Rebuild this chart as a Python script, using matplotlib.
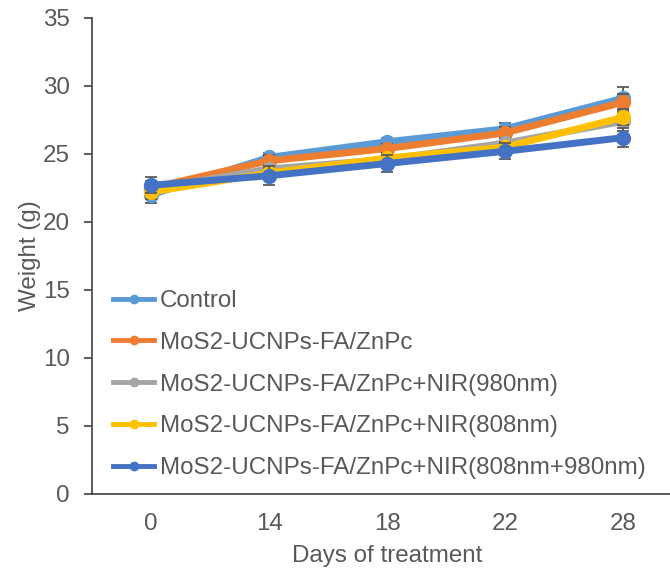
import numpy as np
import matplotlib
matplotlib.use("Agg")
import matplotlib.pyplot as plt
from matplotlib.lines import Line2D

plt.rcParams['font.family'] = ['Liberation Sans', 'DejaVu Sans']

days = ["0", "14", "18", "22", "28"]
labels = ["Control",
          "MoS2-UCNPs-FA/ZnPc",
          "MoS2-UCNPs-FA/ZnPc+NIR(980nm)",
          "MoS2-UCNPs-FA/ZnPc+NIR(808nm)",
          "MoS2-UCNPs-FA/ZnPc+NIR(808nm+980nm)"]
colors = ["#5B9BD5", "#ED7D31", "#A5A5A5", "#FFC000", "#4472C4"]

control = [22.0, 24.75, 25.9, 26.85, 29.1]
mos2 = [22.5, 24.5, 25.4, 26.55, 28.8]
nir980 = [22.4, 23.9, 24.6, 25.8, 27.4]
nir808 = [22.2, 23.6, 24.7, 25.5, 27.7]
nir_both = [22.7, 23.4, 24.3, 25.2, 26.2]

control_err = [0.6, 0.35, 0.3, 0.4, 0.8]
mos2_err = [0.5, 0.4, 0.3, 0.4, 0.6]
nir980_err = [0.5, 0.3, 0.3, 0.4, 0.7]
nir808_err = [0.5, 0.4, 0.4, 0.4, 0.6]
nir_both_err = [0.6, 0.7, 0.6, 0.6, 0.7]

series = [control, mos2, nir980, nir808, nir_both]
errors = [control_err, mos2_err, nir980_err, nir808_err, nir_both_err]

text_col = "#595959"
fs = 17.4

fig = plt.figure(figsize=(6.7, 5.76), dpi=100)
ax = fig.add_axes([92 / 670, 82 / 576, 590 / 670, 476 / 576])

x = np.arange(len(days))
for i, (vals, err, c) in enumerate(zip(series, errors, colors)):
    ax.errorbar(x, vals, yerr=err, fmt="none", ecolor="#595959",
                elinewidth=1.3, capsize=4, capthick=1.3, zorder=2 + 2 * i)
    ax.plot(x, vals, color=c, lw=5, marker="o", markersize=10,
            zorder=3 + 2 * i)

ax.set_xlim(-0.5, 4.5)
ax.set_ylim(0, 35)
ax.set_yticks(range(0, 36, 5))
ax.set_xticks(x)
ax.set_xticklabels(days)

for s in ["top", "right"]:
    ax.spines[s].set_visible(False)
for s in ["left", "bottom"]:
    ax.spines[s].set_color("#404040")
    ax.spines[s].set_linewidth(1.2)

ax.tick_params(axis="y", length=6, width=1.2, color="#404040",
               labelsize=fs, labelcolor=text_col, pad=10)
ax.tick_params(axis="x", length=0, labelsize=fs, labelcolor=text_col, pad=14)

ax.set_ylabel("Weight (g)", fontsize=fs, color=text_col, labelpad=1)
ax.set_xlabel("Days of treatment", fontsize=fs, color=text_col, labelpad=7)

handles = [Line2D([0], [0], color=c, lw=3.5, marker="o", markersize=6)
           for c in colors]
fig.legend(handles, labels, loc="upper left",
           bbox_to_anchor=(113 / 670, (576 - 290) / 576),
           frameon=False, fontsize=fs, labelcolor=text_col,
           handlelength=1.7, handletextpad=0.25, labelspacing=0.82,
           borderpad=0, borderaxespad=0)

fig.savefig("out.png", dpi=100)
